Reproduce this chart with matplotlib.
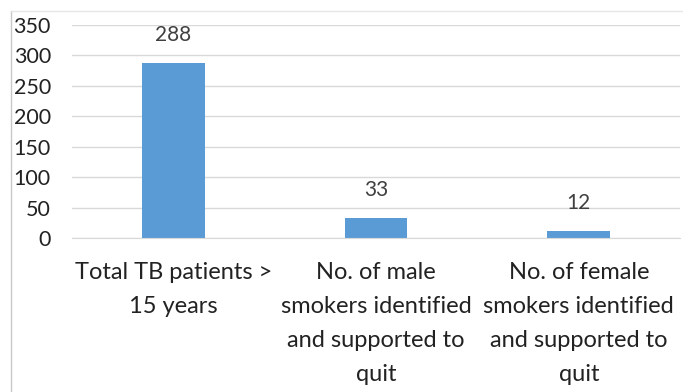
import matplotlib.pyplot as plt
from matplotlib.lines import Line2D

categories = ['Total TB patients >\n15 years',
              'No. of male\nsmokers identified\nand supported to\nquit',
              'No. of female\nsmokers identified\nand supported to\nquit']
values = [288, 33, 12]

plt.rcParams['font.family'] = ['Lato', 'DejaVu Sans']

fig = plt.figure(figsize=(6.83, 3.92), dpi=100)
ax = fig.add_axes([0.105, 0.393, 0.891, 0.543])

x = range(len(values))
bars = ax.bar(x, values, width=0.31, color='#5B9BD5', zorder=2)

for xi, v in zip(x, values):
    ax.annotate(str(v), (xi, v), xytext=(0, 13), textcoords='offset points',
                ha='center', va='bottom', fontsize=15, color='#404040')

ax.set_xlim(-0.5, 2.5)
ax.set_ylim(0, 350)
ax.set_yticks(range(0, 351, 50))
ax.yaxis.grid(True, color='#d9d9d9', linewidth=1, zorder=0)
ax.set_axisbelow(True)
for s in ax.spines.values():
    s.set_visible(False)
ax.spines['bottom'].set_visible(True)
ax.spines['bottom'].set_color('#d9d9d9')

ax.set_xticks(list(x))
ax.set_xticklabels(categories, fontsize=17, color='#222222', linespacing=1.78)
ax.tick_params(axis='x', length=0, pad=17)
ax.tick_params(axis='y', length=0, pad=15, labelsize=15.5, labelcolor='#222222')

# thin frame at top and left of the image
fig.add_artist(Line2D([0.016, 0.016], [0.0, 0.972], transform=fig.transFigure,
                      color='#c8c8c8', linewidth=1))
fig.add_artist(Line2D([0.016, 1.0], [0.972, 0.972], transform=fig.transFigure,
                      color='#e6e6e6', linewidth=1))

fig.savefig('out.png', dpi=100)
